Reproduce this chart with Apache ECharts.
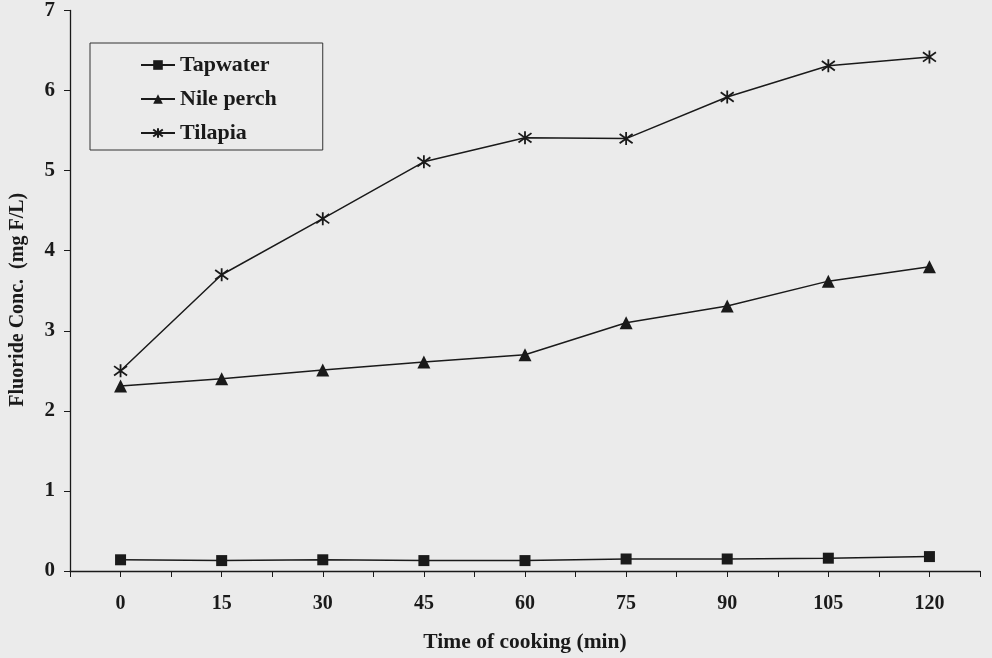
<!DOCTYPE html>
<html>
<head>
<meta charset="utf-8">
<script src="https://cdn.jsdelivr.net/npm/echarts@6/dist/echarts.min.js"></script>
<style>
html,body{margin:0;padding:0;background:#ebebeb;}
#c{width:992px;height:658px;}
</style>
</head>
<body>
<div id="c"></div>
<script>
var times = [0, 15, 30, 45, 60, 75, 90, 105, 120];
var xTickLabels = ['0','15','30','45','60','75','90','105','120'];
var yTickLabels = ['0','1','2','3','4','5','6','7'];
var tapwater  = [0.14, 0.13, 0.14, 0.13, 0.13, 0.15, 0.15, 0.16, 0.18];
var nilePerch = [2.31, 2.40, 2.51, 2.61, 2.70, 3.10, 3.31, 3.62, 3.80];
var tilapia   = [2.50, 3.70, 4.40, 5.11, 5.41, 5.40, 5.92, 6.31, 6.42];
var seriesNames = ['Tapwater', 'Nile perch', 'Tilapia'];

function pairs(vals){ return times.map(function(t,i){ return [t, vals[i]]; }); }

var ink = '#1a1a1a';
var font = '"Liberation Serif", "Times New Roman", serif';
var asterisk = 'path://M50,0 L50,100 M14,14 L86,86 M14,86 L86,14';

var chart = echarts.init(document.getElementById('c'));
chart.setOption({
  backgroundColor: '#ebebeb',
  animation: false,
  grid: { left: 70, right: 12, top: 10, bottom: 85 },
  legend: {
    left: 90, top: 43, orient: 'vertical',
    padding: [11, 46, 6, 50],
    itemGap: 12, itemWidth: 34, itemHeight: 12,
    borderColor: '#333', borderWidth: 1,
    textStyle: { fontFamily: font, fontWeight: 'bold', fontSize: 22, color: ink },
    data: seriesNames
  },
  xAxis: {
    type: 'value', min: -7.5, max: 127.5, interval: 7.5,
    name: 'Time of cooking (min)', nameLocation: 'middle', nameGap: 60,
    nameTextStyle: { fontFamily: font, fontWeight: 'bold', fontSize: 21.5, color: ink },
    axisLine: { onZero: false, lineStyle: { color: ink, width: 1.3 } },
    axisTick: { show: true, length: 6, lineStyle: { color: ink } },
    splitLine: { show: false },
    axisLabel: {
      margin: 23, fontFamily: font, fontWeight: 'bold', fontSize: 20, color: ink,
      formatter: function(v){ var i = times.indexOf(v); return i >= 0 ? xTickLabels[i] : ''; }
    }
  },
  yAxis: {
    type: 'value', min: 0, max: 7, interval: 1,
    name: 'Fluoride Conc.  (mg F/L)', nameLocation: 'middle', nameGap: 42,
    nameTextStyle: { fontFamily: font, fontWeight: 'bold', fontSize: 20, color: ink, padding: [0, 18, 0, 0] },
    axisLine: { show: true, onZero: false, lineStyle: { color: ink, width: 1.3 } },
    axisTick: { show: true, length: 6, lineStyle: { color: ink } },
    splitLine: { show: false },
    axisLabel: {
      margin: 15, fontFamily: font, fontWeight: 'bold', fontSize: 21, color: ink,
      formatter: function(v){ return yTickLabels[Math.round(v)]; }
    }
  },
  series: [
    { name: seriesNames[0], type: 'line', data: pairs(tapwater),
      symbol: 'rect', symbolSize: 11,
      lineStyle: { color: ink, width: 1.5 }, itemStyle: { color: ink } },
    { name: seriesNames[1], type: 'line', data: pairs(nilePerch),
      symbol: 'triangle', symbolSize: 13,
      lineStyle: { color: ink, width: 1.5 }, itemStyle: { color: ink } },
    { name: seriesNames[2], type: 'line', data: pairs(tilapia),
      symbol: asterisk, symbolSize: 13,
      lineStyle: { color: ink, width: 1.5 },
      itemStyle: { color: 'none', borderColor: ink, borderWidth: 1.8 } }
  ]
});
</script>
</body>
</html>
